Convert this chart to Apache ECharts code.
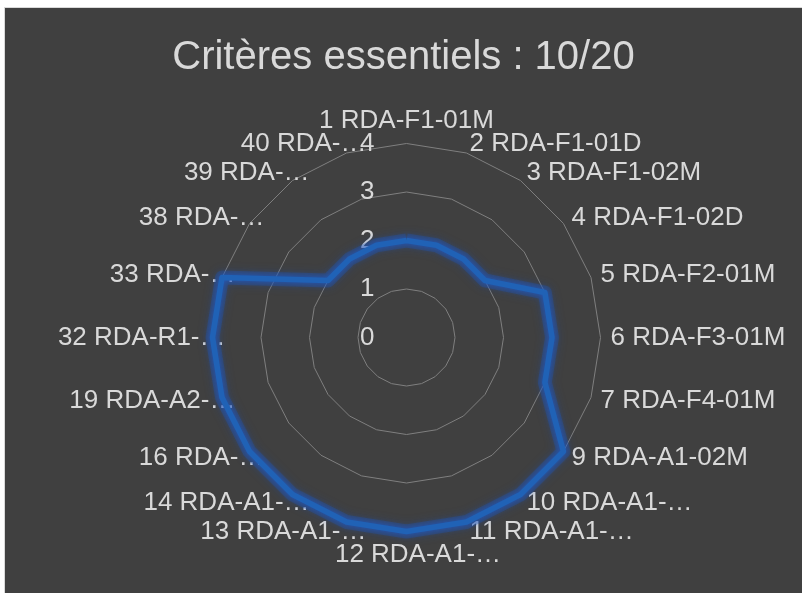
<!DOCTYPE html>
<html>
<head>
<meta charset="utf-8">
<script src="https://cdn.jsdelivr.net/npm/echarts@6/dist/echarts.min.js"></script>
<style>
html,body{margin:0;padding:0;background:#ffffff;width:802px;height:593px;overflow:hidden;}
#frame{position:absolute;left:4px;top:7px;width:798px;height:586px;border-left:1px solid #d9d9d9;border-top:1px solid #d9d9d9;box-sizing:border-box;}
#chart{position:absolute;left:5px;top:8px;width:797px;height:585px;}
</style>
</head>
<body>
<div id="frame"></div>
<div id="chart"></div>
<script>
var titleText = 'Critères essentiels : 10/20';
var categories = ['1 RDA-F1-01M','2 RDA-F1-01D','3 RDA-F1-02M','4 RDA-F1-02D','5 RDA-F2-01M','6 RDA-F3-01M','7 RDA-F4-01M','9 RDA-A1-02M','10 RDA-A1-…','11 RDA-A1-…','12 RDA-A1-…','13 RDA-A1-…','14 RDA-A1-…','16 RDA-…','19 RDA-A2-…','32 RDA-R1-…','33 RDA-…','38 RDA-…','39 RDA-…','40 RDA-…'];
var scores = [2,2,2,2,3,3,3,4,4,4,4,4,4,4,4,4,4,2,2,2];
var axisMin = 0, axisMax = 4, axisStep = 1;

// ECharts radar runs counter-clockwise: reorder so the categories run clockwise
var order = [0];
for (var i = categories.length - 1; i >= 1; i--) order.push(i);
var indicators = order.map(function (k) { return { name: categories[k], min: axisMin, max: axisMax }; });
var values = order.map(function (k) { return scores[k]; });

var txt = '#d9d9d9';
var fontFam = '"Liberation Sans", Arial, sans-serif';
var center = [401.5, 329.5];
var radius = 194;

var chart = echarts.init(document.getElementById('chart'));
chart.setOption({
  backgroundColor: '#404040',
  animation: false,
  title: {
    text: titleText, left: 'center', top: 25,
    textStyle: { color: txt, fontSize: 40, fontWeight: 'normal', fontFamily: fontFam }
  },
  radar: {
    center: center, radius: radius, startAngle: 90, splitNumber: 4, shape: 'polygon',
    indicator: indicators, nameGap: 10,
    axisName: {
      color: txt, fontSize: 26, fontFamily: fontFam,
      formatter: function (name) {
        return name.indexOf('…') >= 0 ? '{t|' + name + '}' : name;
      },
      rich: { t: { color: txt, fontSize: 26, fontFamily: fontFam, padding: [0, -23, 0, 0] } }
    },
    axisLine: { show: false }, axisTick: { show: false }, axisLabel: { show: false },
    splitArea: { show: false },
    splitLine: { lineStyle: { color: '#7f7f7f', width: 1 } }
  },
  polar: { center: center, radius: radius },
  angleAxis: { show: false, min: 0, max: 360 },
  radiusAxis: {
    min: axisMin, max: axisMax, interval: axisStep,
    axisLine: { show: false }, axisTick: { show: false }, splitLine: { show: false },
    axisLabel: { color: txt, fontSize: 26, fontFamily: fontFam, margin: 32 }
  },
  series: [{
    type: 'radar', symbol: 'none', silent: true,
    lineStyle: { color: 'rgba(30,85,180,0.32)', width: 14, shadowBlur: 10, shadowColor: 'rgba(30,85,180,0.7)' },
    data: [{ value: values }]
  }, {
    type: 'radar', symbol: 'none',
    lineStyle: { color: '#2062b6', width: 5.5, shadowBlur: 6, shadowColor: 'rgba(30,95,215,0.8)' },
    data: [{ value: values }]
  }]
});
</script>
</body>
</html>
